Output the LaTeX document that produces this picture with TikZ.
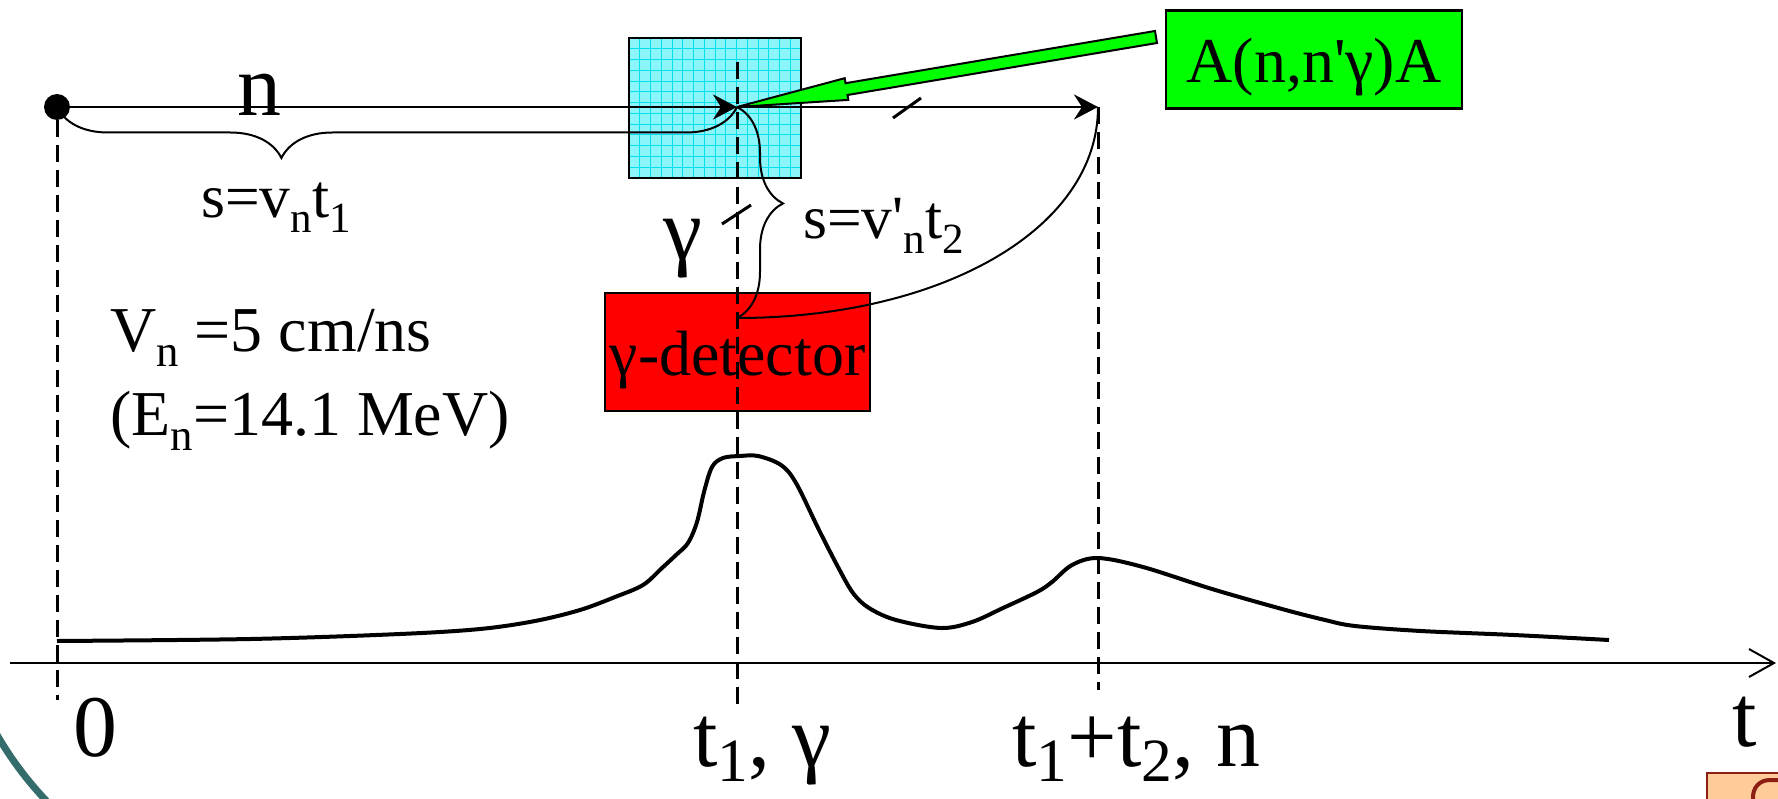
\documentclass[tikz,border=0pt]{standalone}
\usepackage{fontspec}
\setmainfont{Liberation Serif}
\usepackage{graphicx}
\usetikzlibrary{arrows.meta,decorations.pathreplacing}
\definecolor{TgtCyan}{RGB}{140,245,250}
\definecolor{GridCyan}{RGB}{0,225,240}
\definecolor{ReacGreen}{RGB}{0,255,0}
\definecolor{DetRed}{RGB}{255,0,0}
\definecolor{SlideTeal}{RGB}{52,108,108}
\definecolor{BtnFill}{RGB}{255,204,153}
\definecolor{BtnLine}{RGB}{140,30,20}
\newcommand{\subidx}[1]{\raisebox{-0.25em}{\scalebox{0.7}{#1}}}
\newcommand{\subidxb}[1]{\raisebox{-0.18em}{\scalebox{0.7}{#1}}}

\begin{document}
\begin{tikzpicture}[x=0.02cm,y=-0.02cm,
box/.style={draw=black,line width=0.05cm,inner sep=0pt,text height=1.2cm,text depth=0.28cm,font=\fontsize{36.4}{44}\selectfont},
beam/.style={line width=0.054cm,-{Stealth[length=0.48cm,width=0.5cm,inset=0.16cm]}},
thinln/.style={line width=0.04cm},
vline/.style={line width=0.06cm,dash pattern=on 0.34cm off 0.16cm},
tickmark/.style={line width=0.06cm},
gridln/.style={GridCyan,line width=0.02cm},
axisln/.style={line width=0.04cm,-{Straight Barb[length=0.5cm,width=0.56cm]}},
sigln/.style={line width=0.08cm,line join=round},
lbl/.style={inner sep=0pt,anchor=base west},
fbig/.style={font=\fontsize{50}{60}\selectfont},
fmid/.style={font=\fontsize{36.4}{44}\selectfont},
fsml/.style={font=\fontsize{35}{42}\selectfont}
]
\useasboundingbox (0,0) rectangle (1778,798);
\clip (0,0) rectangle (1778,798);

% slide decorations
\draw[SlideTeal,line width=0.14cm] (-9,724) arc[start angle=152,end angle=130,radius=350];
\draw[BtnLine,fill=BtnFill,line width=0.04cm] (1707,773) rectangle (1800,820);
\draw[BtnLine,line width=0.08cm] (1753,800) .. controls (1752,787) and (1760,780) .. (1770,780) -- (1790,780);

% target, detector, reaction
\node[box,fill=TgtCyan,minimum width=3.44cm,minimum height=2.8cm] (tgt) at (715,108) {};
\foreach \gx in {1,...,15} \draw[gridln] (629+\gx*10.75,39) -- (629+\gx*10.75,177);
\foreach \gy in {1,...,12} \draw[gridln] (630,38+\gy*10.77) -- (800,38+\gy*10.77);
\node[box,fill=DetRed,minimum width=5.3cm,minimum height=2.36cm] (det) at (737.5,352) {γ-detector};
\node[box,fill=ReacGreen,minimum width=5.92cm,minimum height=1.96cm] (react) at (1314,59.5) {A(n,n\textquotesingle γ)A};

\node[circle,fill=black,inner sep=0pt,minimum size=0.52cm] (src) at (57,107) {};
\coordinate (hit) at (737,107);
\coordinate (stop) at (1098,107);
\coordinate (fork) at (737,318);
\coordinate (z0) at (57,700);
\coordinate (g0) at (737,62);
\coordinate (g1) at (737,705);
\coordinate (n1) at (1098,690);
\coordinate (ax0) at (10,663);
\coordinate (ax1) at (1776,663);

% time markers
\draw[vline] (src) -- (z0);
\draw[vline] (g0) -- (g1);
\draw[vline] (stop) -- (n1);

% flight paths
\draw[beam] (src.center) -- (hit);
\draw[beam] (hit) -- (stop);
\draw[thinln,decorate,decoration={brace,mirror,amplitude=1.02cm,aspect=0.33}] (src.center) -- (hit);
\draw[thinln,decorate,decoration={brace,amplitude=0.92cm,aspect=0.457}] (hit) -- (fork);
\draw[thinln] (fork) .. controls (940,318) and (1098,230) .. (stop);
\draw[tickmark] (893,118) -- (921,98);
\draw[tickmark] (722,224) -- (751,205);
\draw[line width=0.04cm,fill=ReacGreen] (1155,31) -- (845.5,83.2) -- (844.7,78.2) -- (hit) -- (848.3,99.9) -- (847.5,95) -- (1157,43) -- cycle;

% labels
\node[lbl,fbig] (nlbl) at (237,115) {n};
\node[lbl,fsml] (s1) at (201,217) {s=v\subidx{n}t\subidx{1}};
\node[lbl,fsml] (s2) at (803,238) {s=v\textquotesingle\subidx{n}t\subidx{2}};
\node[fbig,inner sep=0pt] (glbl) at (683,249) {γ};
\node[lbl,fmid] (vn) at (110,351) {V\subidx{n} =5 cm/ns};
\node[lbl,fmid] (en) at (110,435) {(E\subidx{n}=14.1 MeV)};

% spectrum
\draw[axisln] (ax0) -- (ax1);
\draw[sigln] plot[smooth,tension=0.55] coordinates {(57,641) (250,639) (400,634) (480,629) (535,621) (580,610) (615,597) (643,585) (662,568) (676,555) (688,543) (697,522) (704,492) (712,467) (723,458) (740,456) (758,456) (781,465) (796,483) (819,530) (838,567) (853,593) (869,608) (896,620) (941,628) (972,622) (1003,608) (1037,592) (1052,582) (1072,565) (1098,558) (1143,567) (1212,589) (1282,609) (1325,620) (1355,626) (1421,631) (1514,635) (1609,640)};
\node[lbl,fbig] (l0) at (73,756) {0};
\node[lbl,fbig] (lt1) at (693,766) {t\subidxb{1}, γ};
\node[lbl,fbig] (lt2) at (1012,766) {t\subidxb{1}+t\subidxb{2}, n};
\node[lbl,fbig] (lt) at (1732,746) {t};
\end{tikzpicture}
\end{document}
